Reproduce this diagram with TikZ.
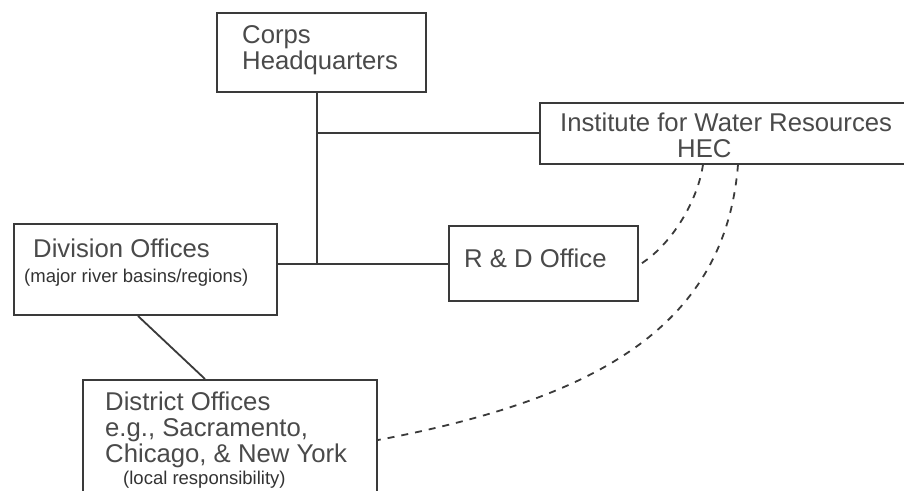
\documentclass[tikz,border=0pt]{standalone}
\usepackage{fontspec}
\setmainfont{Liberation Sans}
\definecolor{linec}{HTML}{3A3A3A}
\definecolor{textc}{HTML}{4A4A4A}
\definecolor{stextc}{HTML}{333333}
\begin{document}
\begin{tikzpicture}[x=1pt,y=-1pt,
  box/.style={draw=linec,line width=2pt,rectangle,inner sep=0pt,fill=white},
  big/.style={text=textc,inner sep=0pt,font=\fontsize{25.7}{26}\selectfont,align=left},
  small/.style={text=stextc,inner sep=0pt,font=\fontsize{18.5}{20}\selectfont,align=left},
  conn/.style={draw=linec,line width=1.8pt},
  dconn/.style={draw=linec,line width=1.8pt,dash pattern=on 7pt off 7pt}]
\clip (0,0) rectangle (904,490);
\fill[white] (0,0) rectangle (904,490);
% boxes
\node[box,minimum width=209pt,minimum height=79pt] (hq) at (321.5,52.5) {};
\node[box,minimum width=370pt,minimum height=61pt] (hec) at (725,133) {};
\node[box,minimum width=263pt,minimum height=91pt] (div) at (145.5,269.5) {};
\node[box,minimum width=189pt,minimum height=75pt] (rd) at (543.5,263.5) {};
\node[box,minimum width=294pt,minimum height=120pt] (dist) at (230,440) {};
% texts
\node[big,anchor=west] (hqt) at (242,50) {Corps\\Headquarters};
\node[big,anchor=west] (hect) at (560,135) {Institute for Water Resources\\\hspace*{117pt}HEC};
\node[big,anchor=west] (divt) at (33,248) {Division Offices};
\node[small,anchor=west] (divs) at (24,278) {(major river basins/regions)};
\node[big,anchor=west] (rdt) at (464,258) {R \& D Office};
\node[big,anchor=west] (distt) at (105,430) {District Offices\\e.g., Sacramento,\\Chicago, \& New York};
\node[small,anchor=west] (dists) at (123,480) {(local responsibility)};
% connectors
\coordinate (j1) at (317,133);
\coordinate (j2) at (317,264);
\draw[conn] (hq.south -| j1) -- (j2);
\draw[conn] (j1) -- (hec.west);
\draw[conn] (div.east |- j2) -- (rd.west |- j2);
\draw[conn] ([xshift=-7.5pt]div.south) -- ([xshift=-25pt]dist.north);
\draw[dconn] ([xshift=-22pt]hec.south) .. controls (698,200) and (672,245) .. ([yshift=-1.5pt]rd.east);
\draw[dconn] ([xshift=13pt]hec.south) .. controls (725,330) and (590,400) .. (dist.east);
\end{tikzpicture}
\end{document}
